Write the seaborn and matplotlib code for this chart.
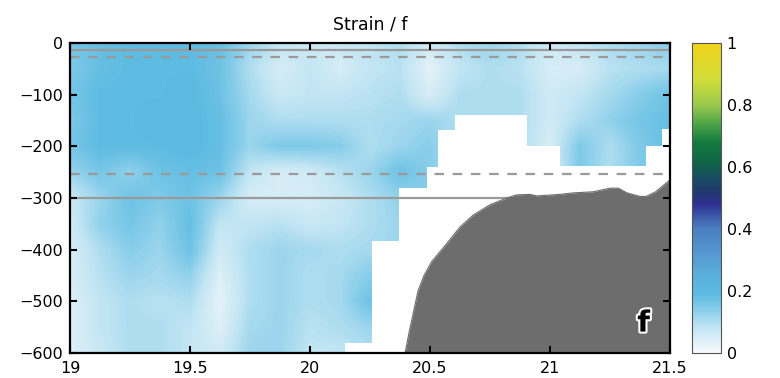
import numpy as np
import pandas as pd
import matplotlib
matplotlib.use("Agg")
import matplotlib.pyplot as plt
import matplotlib.patheffects as pe
from matplotlib.colors import LinearSegmentedColormap
import seaborn as sns

# Section stations (longitude) and sample depths (m)
stations = [19.0, 19.125, 19.25, 19.375, 19.5, 19.625, 19.75, 19.875, 20.0, 20.125,
            20.25, 20.375, 20.5, 20.625, 20.75, 20.875, 21.0, 21.125, 21.25, 21.375, 21.5]
depths = [0, -50, -100, -150, -200, -250, -300, -350, -400, -450, -500, -550, -600]

N = None
# Strain / f at each depth level (one list per depth, one value per station)
s_0 = [.16, .18, .19, .19, .19, .18, .12, .08, .06, .07, .08, .10, .06, .10, .12, .10, .06, .08, .10, .12, .14]
s_50 = [.15, .18, .19, .19, .19, .17, .10, .05, .08, .05, .08, .09, .03, .08, .10, .09, .05, .05, .09, .10, .11]
s_100 = [.16, .19, .19, .19, .20, .17, .11, .07, .08, .08, .09, .10, .05, .10, .10, .10, .06, .08, .11, .14, .17]
s_150 = [.15, .19, .19, .20, .20, .18, .12, .10, .10, .10, .10, .11, .12, N, N, N, .06, .10, .13, .16, .18]
s_200 = [.16, .19, .19, .19, .20, .18, .12, .15, .15, .14, .10, .12, .14, N, N, N, .05, .15, .10, .15, N]
s_250 = [.12, .16, .13, .17, .18, .17, .08, .05, .06, .09, .12, .17, N, N, N, N, N, N, N, N, N]
s_300 = [.07, .12, .17, .15, .17, .12, .05, .05, .05, .07, .10, .13, N, N, N, N, N, N, N, N, N]
s_350 = [.06, .13, .16, .13, .18, .08, .08, .09, .07, .08, .10, .12, N, N, N, N, N, N, N, N, N]
s_400 = [.05, .10, .14, .12, .17, .06, .10, .12, .11, .10, .11, N, N, N, N, N, N, N, N, N, N]
s_450 = [.05, .09, .12, .11, .13, .04, .10, .12, .10, .11, .14, N, N, N, N, N, N, N, N, N, N]
s_500 = [.04, .08, .10, .09, .10, .03, .10, .12, .10, .11, .17, N, N, N, N, N, N, N, N, N, N]
s_550 = [.04, .08, .10, .10, .08, .04, .11, .12, .09, .10, .12, N, N, N, N, N, N, N, N, N, N]
s_600 = [.04, .07, .10, .10, .08, .06, .12, .12, .08, .08, .10, N, N, N, N, N, N, N, N, N, N]

# Deepest valid sample along the section (stepped profile)
cast_x = [19.0, 20.146, 20.258, 20.37, 20.488, 20.533, 20.604, 20.904, 21.04, 21.398, 21.465, 21.5]
cast_bottom = [-600, -581, -383, -281, -240, -168, -139, -199, -238, -200, -167, -167]

# Bathymetry
bathy_x = [20.396, 20.415, 20.43, 20.45, 20.475, 20.507, 20.57, 20.625, 20.68, 20.75, 20.82, 20.86,
           20.917, 20.944, 21.04, 21.10, 21.18, 21.25, 21.285, 21.32, 21.375, 21.40, 21.44, 21.5]
bathy_z = [-600, -555, -523, -480, -450, -423, -388, -356, -333, -313, -300, -294,
           -293, -296, -293, -290, -288, -281, -281, -290, -297, -297, -288, -265]

# Reference levels: (depth, linestyle)
level_depths = [-14, -300, -28, -254]
level_styles = ["solid", "solid", "dashed", "dashed"]

x_ticks = [19, 19.5, 20, 20.5, 21, 21.5]
x_labels = ["19", "19.5", "20", "20.5", "21", "21.5"]
y_ticks = [0, -100, -200, -300, -400, -500, -600]
cbar_ticks = [0, 0.2, 0.4, 0.6, 0.8, 1]
cbar_labels = ["0", "0.2", "0.4", "0.6", "0.8", "1"]

sns.set_theme(style="ticks")
plt.rcParams["font.family"] = ["DejaVu Sans"]
plt.rcParams["axes.unicode_minus"] = True
plt.rcParams["text.color"] = "black"

field = pd.DataFrame([s_0, s_50, s_100, s_150, s_200, s_250, s_300, s_350, s_400,
                      s_450, s_500, s_550, s_600], index=depths, columns=stations,
                     dtype=float)
# cells below the last sample carry the deepest value downward (hidden by the mask)
grid = field.ffill().to_numpy()

cmap = LinearSegmentedColormap.from_list("strain", [
    (0.00, "#F7FAFC"), (0.08, "#C2E5F3"), (0.14, "#86CDEA"), (0.19, "#5DBBE1"),
    (0.25, "#5AAFDC"), (0.33, "#5595CF"), (0.40, "#4A7FC0"), (0.44, "#3C5BAA"),
    (0.48, "#2E3090"), (0.52, "#21386E"), (0.57, "#17505F"), (0.62, "#0F6645"),
    (0.68, "#137B3F"), (0.74, "#4CA447"), (0.80, "#99C84D"), (0.88, "#CFDC3A"),
    (1.00, "#F2D31B")])

fig = plt.figure(figsize=(7.8, 3.78), dpi=100)
ax = fig.add_axes([70 / 780, 25 / 378, 600 / 780, 310 / 378])
cax = fig.add_axes([692 / 780, 25 / 378, 29 / 780, 310 / 378])
ax.set_axisbelow(False)

dx = (stations[1] - stations[0]) / 2
dz = abs(depths[1] - depths[0]) / 2
im = ax.imshow(grid, cmap=cmap, vmin=0, vmax=1, aspect="auto", origin="upper",
               interpolation="bilinear",
               extent=[stations[0] - dx, stations[-1] + dx, depths[-1] - dz, depths[0] + dz],
               zorder=0.5)

# no-data area below the deepest sample
ax.fill_between(cast_x, cast_bottom, -600, step="post", color="white", lw=0, zorder=1)

# reference depth levels
for z, ls in zip(level_depths, level_styles):
    lvl = pd.DataFrame({"lon": [19.0, 21.5], "depth": [z, z]})
    line = sns.lineplot(data=lvl, x="lon", y="depth", ax=ax, color="#9a9a9a", lw=1.6,
                        zorder=1.2)
    if ls == "dashed":
        line.lines[-1].set_dashes((4.3, 3.9))

# seafloor
ax.fill_between(bathy_x, bathy_z, -600, color="#6d6d6d", lw=0, zorder=1.5)
sns.lineplot(x=bathy_x, y=bathy_z, ax=ax, color="#6d6d6d", lw=0.8, zorder=1.5)

ax.text(21.39, -543, "f", ha="center", va="center", fontsize=21, fontweight="bold",
        color="black", zorder=6,
        path_effects=[pe.withStroke(linewidth=3, foreground="white")])

ax.set_xlim(19, 21.5)
ax.set_ylim(-600, 0)
ax.set_xticks(x_ticks)
ax.set_xticklabels(x_labels)
ax.set_yticks(y_ticks)
ax.set_yticklabels([f"\u2212{abs(v)}" if v < 0 else str(v) for v in y_ticks])
ax.set_xlabel("")
ax.set_ylabel("")
ax.tick_params(direction="in", length=5, width=1.5, top=True, right=True,
               labelsize=11.5, colors="black", pad=5)
ax.tick_params(axis="x", pad=6)
for sp in ax.spines.values():
    sp.set_visible(True)
    sp.set_linewidth(1.6)
    sp.set_color("black")
    sp.set_zorder(7)
ax.set_title("Strain / f", fontsize=12.5, pad=10, color="black")

cb = fig.colorbar(im, cax=cax, ticks=cbar_ticks)
cb.ax.set_yticklabels(cbar_labels)
cb.outline.set_linewidth(0.8)
cb.outline.set_edgecolor("#555555")
cax.tick_params(direction="in", length=3, width=0.8, left=True, right=True,
                labelsize=11.5, pad=4, labelcolor="black", color="#555555")

fig.savefig("out.png", dpi=100)
